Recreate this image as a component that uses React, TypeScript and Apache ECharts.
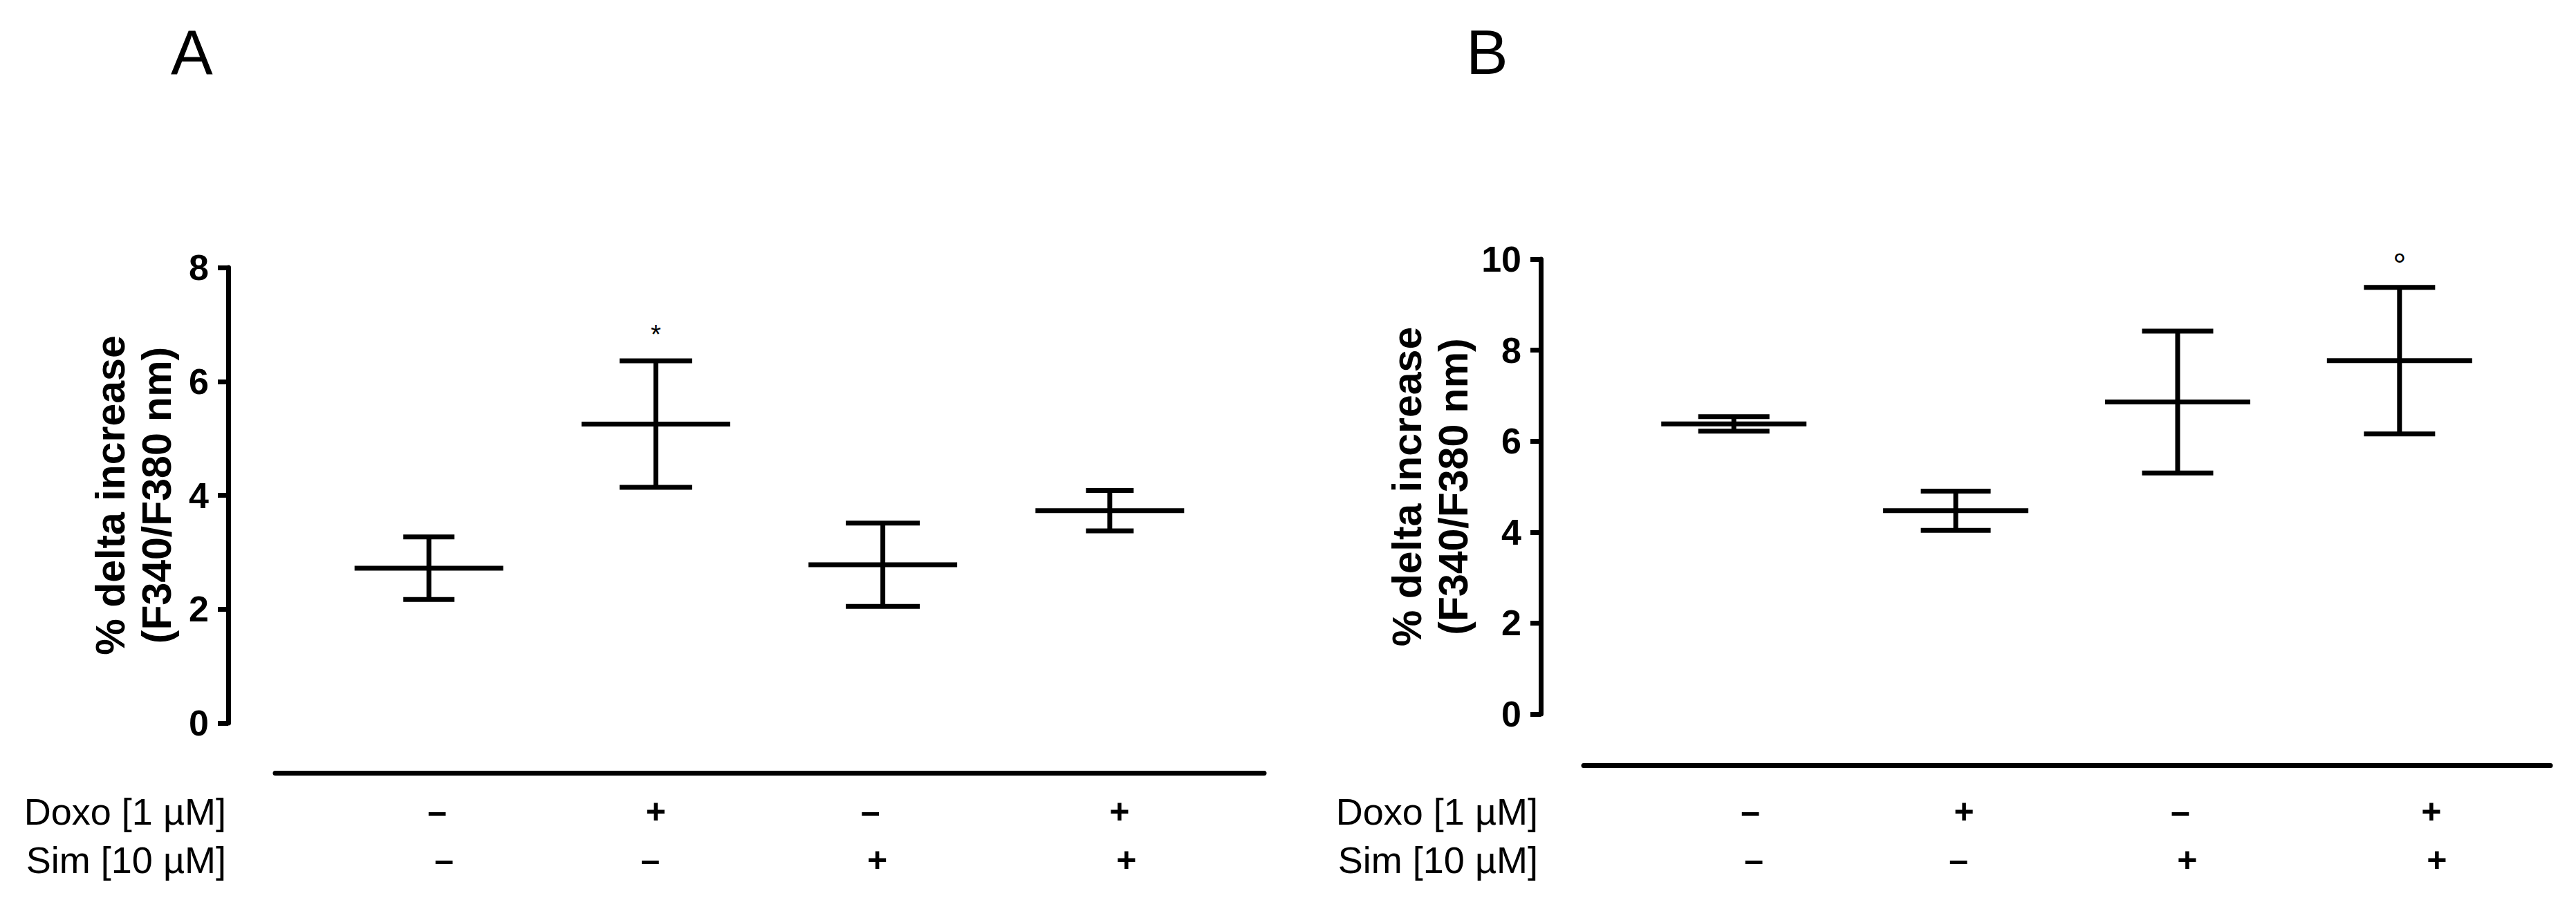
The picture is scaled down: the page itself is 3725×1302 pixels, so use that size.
import React, { useEffect, useRef } from "react";
import * as echarts from "echarts";

// ---------- data ----------
const doxoSigns = ["–", "+", "–", "+"];
const simSigns = ["–", "–", "+", "+"];
const rowLabels = ["Doxo [1 µM]", "Sim [10 µM]"];
const yTitle = "% delta increase\n(F340/F380 nm)";

const meanA = [2.72, 5.25, 2.78, 3.73];
const semA = [0.55, 1.11, 0.73, 0.355];
const markA = ["", "*", "", ""];
const yMaxA = 8;

const meanB = [6.38, 4.47, 6.86, 7.77];
const semB = [0.16, 0.43, 1.56, 1.61];
const markB = ["", "", "", "°"];
const yMaxB = 10;

const yInterval = 2;

// ---------- layout / style ----------
const FONT = '"Liberation Sans", Arial, Helvetica, sans-serif';
const NARROW = '"Liberation Sans Narrow", "Arial Narrow", "Liberation Sans", Arial, sans-serif';
const ROW_Y = [1174, 1244];
const LW = 7;

const panels = [
  {
    letter: "A",
    letterX: 247,
    gridLeft: 398,
    gridWidth: 1430,
    gridTop: 387,
    gridHeight: 659,
    axisOffset: 68,
    sepOffset: 72,
    nameGap: 70,
    labelRight: 327,
    capW: [74, 105, 107, 69],
    meanW: 215,
    markGap: 38,
    markSize: 38,
    nudge1: [12, 0, -18, 14],
    nudge2: [22, -8, -8, 24],
    mean: meanA,
    sem: semA,
    marks: markA,
    yMax: yMaxA,
  },
  {
    letter: "B",
    letterX: 2120,
    gridLeft: 2290,
    gridWidth: 1398,
    gridTop: 375,
    gridHeight: 658,
    axisOffset: 62,
    sepOffset: 74,
    nameGap: 93,
    labelRight: 2224,
    capW: [103, 101, 103, 103],
    meanW: 210,
    markGap: 32,
    markSize: 48,
    nudge1: [24, 12, 4, 46],
    nudge2: [29, 4, 14, 54],
    mean: meanB,
    sem: semB,
    marks: markB,
    yMax: yMaxB,
  },
];

function buildOption() {
  const grid: any[] = [];
  const xAxis: any[] = [];
  const yAxis: any[] = [];
  const series: any[] = [];
  const graphic: any[] = [];

  panels.forEach((p, k) => {
    grid.push({
      left: p.gridLeft,
      top: p.gridTop,
      width: p.gridWidth,
      height: p.gridHeight,
      containLabel: false,
      outerBoundsMode: "none",
    });
    xAxis.push({
      type: "value",
      gridIndex: k,
      min: -0.677,
      max: 3.68,
      position: "bottom",
      offset: p.sepOffset,
      axisLine: { show: true, onZero: false, lineStyle: { color: "#000", width: LW } },
      axisTick: { show: false },
      axisLabel: { show: false },
      splitLine: { show: false },
    });
    yAxis.push({
      type: "value",
      gridIndex: k,
      min: 0,
      max: p.yMax,
      interval: yInterval,
      position: "left",
      offset: p.axisOffset,
      axisLine: { show: true, onZero: false, lineStyle: { color: "#000", width: LW } },
      axisTick: { show: true, length: 15, lineStyle: { color: "#000", width: LW } },
      axisLabel: {
        show: true,
        fontSize: 52,
        fontWeight: "bold",
        color: "#000",
        margin: 28,
        fontFamily: FONT,
      },
      splitLine: { show: false },
      name: yTitle,
      nameLocation: "middle",
      nameRotate: 90,
      nameGap: p.nameGap,
      nameTextStyle: {
        fontSize: 59,
        fontWeight: "bold",
        lineHeight: 67,
        color: "#000",
        fontFamily: FONT,
      },
    });

    // error bars: mean ± SEM
    series.push({
      type: "custom",
      xAxisIndex: k,
      yAxisIndex: k,
      clip: false,
      data: p.mean.map((m, i) => [i, m, p.sem[i]]),
      renderItem: (params: any, api: any) => {
        const i = api.value(0) as number;
        const m = api.value(1) as number;
        const s = api.value(2) as number;
        const c = api.coord([i, m]);
        const hi = api.coord([i, m + s]);
        const lo = api.coord([i, m - s]);
        const st = { stroke: "#000", lineWidth: LW };
        const cw = p.capW[params.dataIndex] / 2;
        const mw = p.meanW / 2;
        const children: any[] = [
          { type: "line", shape: { x1: c[0] - mw, y1: c[1], x2: c[0] + mw, y2: c[1] }, style: st },
          { type: "line", shape: { x1: c[0], y1: hi[1], x2: c[0], y2: lo[1] }, style: st },
          { type: "line", shape: { x1: c[0] - cw, y1: hi[1], x2: c[0] + cw, y2: hi[1] }, style: st },
          { type: "line", shape: { x1: c[0] - cw, y1: lo[1], x2: c[0] + cw, y2: lo[1] }, style: st },
        ];
        const mark = p.marks[params.dataIndex];
        if (mark) {
          children.push({
            type: "text",
            x: c[0],
            y: hi[1] - p.markGap,
            style: {
              text: mark,
              fontSize: p.markSize,
              fontFamily: FONT,
              fill: "#000",
              align: "center",
              verticalAlign: "middle",
            },
          });
        }
        return { type: "group", children };
      },
    });

    // treatment table signs
    series.push({
      type: "custom",
      xAxisIndex: k,
      yAxisIndex: k,
      clip: false,
      silent: true,
      data: doxoSigns.map((_, i) => [i, 0]),
      renderItem: (params: any, api: any) => {
        const i = params.dataIndex;
        const c = api.coord([api.value(0), 0]);
        const ts = (t: string) => ({
          text: t,
          fontSize: 50,
          fontWeight: "bold",
          fontFamily: FONT,
          fill: "#000",
          align: "center",
          verticalAlign: "middle",
        });
        return {
          type: "group",
          children: [
            { type: "text", x: c[0] + p.nudge1[i], y: ROW_Y[0], style: ts(doxoSigns[i]) },
            { type: "text", x: c[0] + p.nudge2[i], y: ROW_Y[1], style: ts(simSigns[i]) },
          ],
        };
      },
    });

    graphic.push({
      type: "text",
      x: p.letterX,
      y: 75.5,
      style: {
        text: p.letter,
        fontSize: 91,
        fontFamily: NARROW,
        fill: "#000",
        align: "left",
        verticalAlign: "middle",
      },
    });
    rowLabels.forEach((t, r) => {
      graphic.push({
        type: "text",
        x: p.labelRight,
        y: ROW_Y[r],
        style: {
          text: t,
          fontSize: 54,
          fontFamily: FONT,
          fill: "#000",
          align: "right",
          verticalAlign: "middle",
        },
      });
    });
  });

  return {
    animation: false,
    backgroundColor: "#fff",
    grid,
    xAxis,
    yAxis,
    series,
    graphic,
  };
}

export default function App() {
  const ref = useRef<HTMLDivElement>(null);
  useEffect(() => {
    if (!ref.current) return;
    const chart = echarts.init(ref.current, undefined, { renderer: "svg" });
    chart.setOption(buildOption() as any);
    return () => chart.dispose();
  }, []);
  return (
    <div
      ref={ref}
      style={{ position: "absolute", left: 0, top: 0, width: 3725, height: 1302, background: "#fff" }}
    />
  );
}
